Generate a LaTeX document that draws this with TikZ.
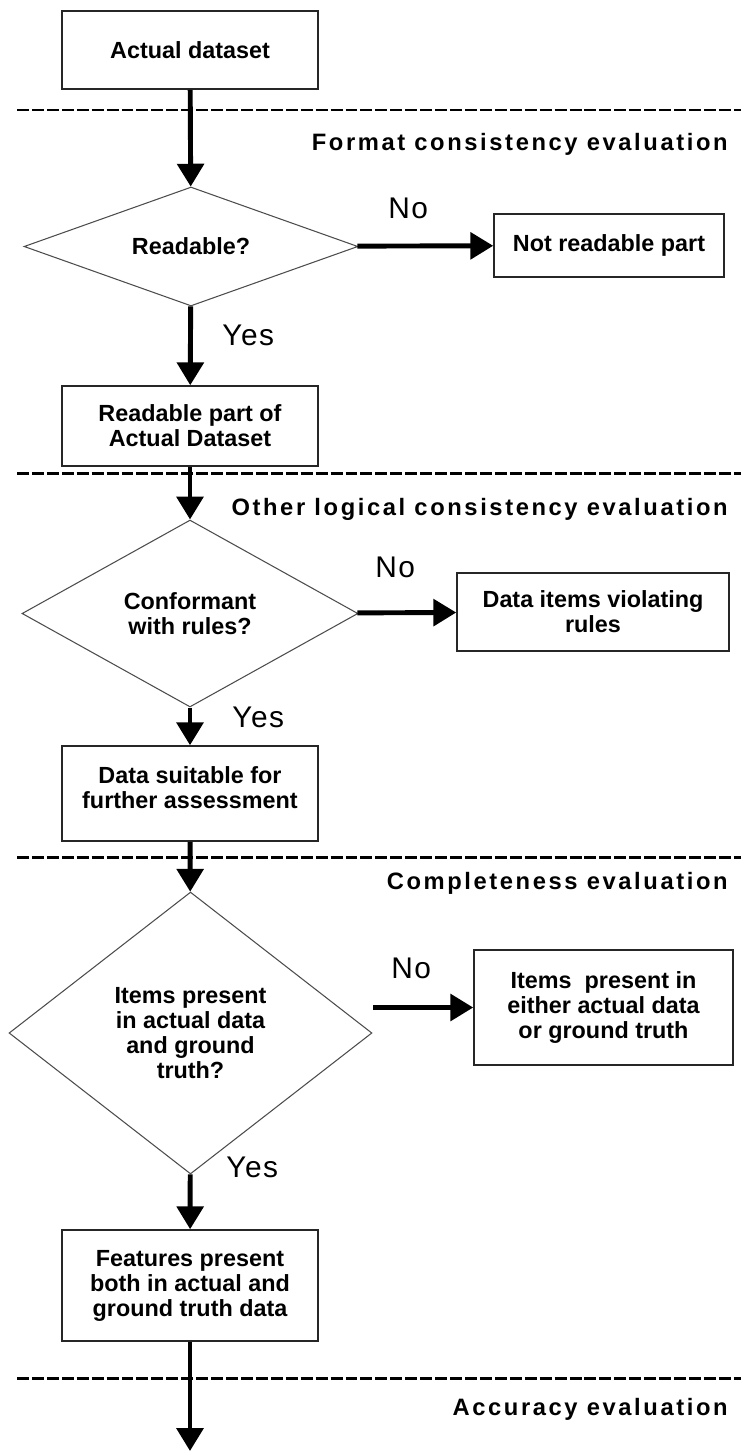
\documentclass[tikz,border=0pt]{standalone}
\usepackage{fontspec}
\setmainfont{Liberation Sans}
\usetikzlibrary{positioning,calc,arrows.meta,shapes.geometric}
\tikzset{>={Triangle[length=13pt,width=15pt]}}

\newcommand{\boxfont}{\bfseries\fontsize{13.3}{14.2}\selectfont}
\newcommand{\stagefont}{\bfseries\fontsize{13.5}{15}\selectfont\addfontfeature{LetterSpace=11}}
\newcommand{\answerfont}{\fontsize{17}{19}\selectfont\addfontfeature{LetterSpace=5}}

\tikzset{
  box/.style={draw=black!85,line width=0.9pt,align=center,inner sep=0pt,font=\boxfont},
  decision/.style={diamond,draw=black!70,line width=0.6pt,align=center,inner sep=0pt,font=\boxfont},
  flow/.style={->,line width=2.8pt},
  stageline/.style={line width=1.7pt,dash pattern=on 6.8pt off 1.7pt},
  stage/.style={anchor=base east,inner sep=0pt,font=\stagefont},
  answer/.style={anchor=base west,inner sep=0pt,font=\answerfont}
}

\begin{document}
\begin{tikzpicture}[x=0.02cm,y=-0.02cm]
% One unit is one pixel of the page, y runs downwards
\useasboundingbox (0,0) rectangle (741,1451);

% Stage separators
\foreach \ypos in {110,473,857,1378}
  \draw[stageline] (17,\ypos) -- (741,\ypos);

\node[stage] (fmt) at (728,150) {Format consistency evaluation};
\node[stage] (logic) at (728,515) {Other logical consistency evaluation};
\node[stage] (compl) at (728,889) {Completeness evaluation};
\node[stage] (accur) at (728,1415) {Accuracy evaluation};

% Main column
\node[box,minimum width=5.12cm,minimum height=1.56cm] (actual) at (190,50) {Actual dataset};
\node[decision,minimum width=6.68cm,minimum height=2.38cm,shape aspect=2.8] (readable) at (191,246.5) {Readable?};
\node[box,minimum width=5.12cm,minimum height=1.6cm] (readpart) at (190,426) {Readable part of\\Actual Dataset};
\node[decision,minimum width=6.72cm,minimum height=3.74cm,shape aspect=1.8] (conform) at (190,613.5) {Conformant\\with rules?};
\node[box,minimum width=5.12cm,minimum height=1.9cm,text depth=7pt] (suitable) at (190,793.5) {Data suitable for\\further assessment};
\node[decision,minimum width=7.26cm,minimum height=5.64cm,shape aspect=1.29] (items) at (190.5,1033) {Items present\\in actual data\\and ground\\truth?};
\node[box,minimum width=5.12cm,minimum height=2.22cm] (features) at (190,1285.5) {Features present\\both in actual and\\ground truth data};
\coordinate (out) at (190,1451);

% Side results
\node[box,minimum width=4.6cm,minimum height=1.26cm] (notread) at (609,245.5) {Not readable part};
\node[box,minimum width=5.44cm,minimum height=1.56cm] (violating) at (593,612) {Data items violating\\rules};
\node[box,minimum width=5.18cm,minimum height=2.3cm] (either) at (603.5,1007.5) {Items~ present in\\either actual data\\or ground truth};

% Flow
\draw[flow] (actual) -- (readable);
\draw[flow] (readable) -- (readpart);
\draw[flow] (readable) -- (notread);
\draw[flow] (readpart) -- (conform);
\draw[flow] (conform) -- (violating);
\draw[flow] (conform) -- (suitable);
\draw[flow] (suitable) -- (items);
\draw[flow] ($(items.east |- either.west)+(1,0)$) -- (either.west);
\draw[flow] (items) -- (features);
\draw[flow] (features) -- (out);

% Answers
\node[answer] (no1) at (388,218) {No};
\node[answer] (yes1) at (222,345) {Yes};
\node[answer] (no2) at (375,577) {No};
\node[answer] (yes2) at (232,727) {Yes};
\node[answer] (no3) at (391,978) {No};
\node[answer] (yes3) at (226,1177) {Yes};
\end{tikzpicture}
\end{document}
